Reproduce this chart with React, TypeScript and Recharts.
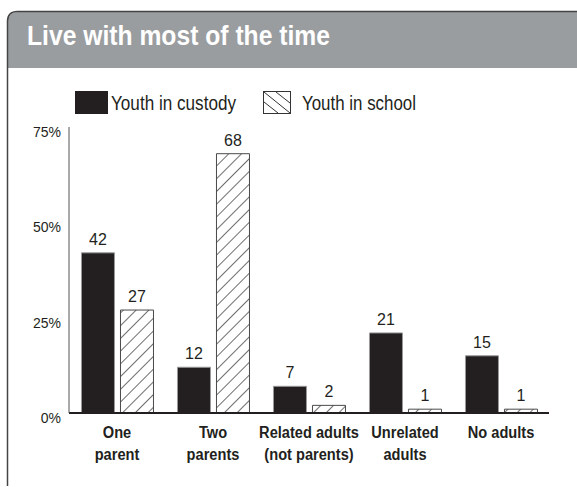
import { Bar, BarChart, LabelList, XAxis, YAxis } from "recharts";

const categories = [
  "One\nparent",
  "Two\nparents",
  "Related adults\n(not parents)",
  "Unrelated\nadults",
  "No adults",
];
const custody = [42, 12, 7, 21, 15];
const school = [27, 68, 2, 1, 1];
const yTicks = [0, 25, 50, 75];

const data = categories.map((name, i) => ({ name, custody: custody[i], school: school[i] }));

const SANS = "'Liberation Sans', Arial, sans-serif";
const INK = "#231f20";

// condensed look: Liberation Sans squeezed horizontally
function XTick({ x, y, payload }: any) {
  const lines = String(payload.value).split("\n");
  return (
    <g transform={`translate(${x},${y}) scale(0.86,1)`}>
      <text x={0} y={0} textAnchor="middle" fill={INK} fontFamily={SANS} fontWeight="bold" fontSize={17}>
        {lines.map((l, i) => (
          <tspan key={i} x={0} dy={i === 0 ? 25 : 22}>
            {l}
          </tspan>
        ))}
      </text>
    </g>
  );
}

function YTick({ x, y, payload }: any) {
  return (
    <text x={x - 8} y={y + 5} textAnchor="end" dominantBaseline="central" fill={INK} fontFamily={SANS} fontSize={14}>
      {payload.value}%
    </text>
  );
}

export default function App() {
  return (
    <div style={{ position: "absolute", left: 0, top: 0, width: 577, height: 487, overflow: "hidden", background: "#fff" }}>
      <svg width={577} height={487} style={{ position: "absolute", left: 0, top: 0 }}>
        <path d="M 700 12 L 18 12 Q 8 12 8 22 L 8 68 L 700 68 Z" fill="#9a9d9f" />
        <path d="M 700 11.5 L 17.5 11.5 Q 7.5 11.5 7.5 21.5 L 7.5 486" fill="none" stroke="#444" strokeWidth={1.5} />
        <text
          x={27}
          y={45}
          fill="#fff"
          fontFamily={SANS}
          fontWeight="bold"
          fontSize={28}
          textLength={303}
          lengthAdjust="spacingAndGlyphs"
        >
          Live with most of the time
        </text>
        <rect x={75} y={91} width={33} height={23} fill={INK} />
        <text x={111} y={110} fill={INK} fontFamily={SANS} fontSize={20} textLength={125} lengthAdjust="spacingAndGlyphs">
          Youth in custody
        </text>
        <rect x={263.5} y={91.5} width={27} height={22} fill="#fff" stroke="#333" strokeWidth={1} />
        <line x1={264} y1={92} x2={290} y2={113} stroke="#333" strokeWidth={1} />
        <line x1={264} y1={102} x2={278} y2={113} stroke="#333" strokeWidth={1} />
        <line x1={276} y1={92} x2={290} y2={103} stroke="#333" strokeWidth={1} />
        <text x={302} y={110} fill={INK} fontFamily={SANS} fontSize={20} textLength={114} lengthAdjust="spacingAndGlyphs">
          Youth in school
        </text>
      </svg>

      <div style={{ position: "absolute", left: 0, top: 0 }}>
        <BarChart
          width={577}
          height={487}
          data={data}
          margin={{ top: 127, right: 28, bottom: 14, left: 0 }}
          barCategoryGap="13%"
          barGap={6}
        >
          <defs>
            <pattern id="hatch" patternUnits="userSpaceOnUse" width={9} height={9} patternTransform="rotate(45)">
              <rect width={9} height={9} fill="#fff" />
              <line x1={0} y1={0} x2={0} y2={9} stroke={INK} strokeWidth={1.3} />
            </pattern>
          </defs>
          <XAxis
            dataKey="name"
            height={60}
            interval={0}
            tickLine={false}
            tickSize={0}
            tickMargin={0}
            axisLine={{ stroke: INK, strokeWidth: 2 }}
            tick={<XTick />}
          />
          <YAxis
            width={69}
            domain={[0, 75]}
            ticks={yTicks}
            tickLine={false}
            tickSize={0}
            tickMargin={0}
            axisLine={{ stroke: "#555", strokeWidth: 1 }}
            tick={<YTick />}
          />
          <Bar dataKey="custody" fill={INK} stroke="#9a9a9a" strokeWidth={1} isAnimationActive={false}>
            <LabelList dataKey="custody" position="top" offset={8} fill={INK} fontFamily={SANS} fontSize={16} />
          </Bar>
          <Bar dataKey="school" fill="url(#hatch)" stroke="#4a4a4a" strokeWidth={1} isAnimationActive={false}>
            <LabelList dataKey="school" position="top" offset={8} fill={INK} fontFamily={SANS} fontSize={16} />
          </Bar>
        </BarChart>
      </div>
    </div>
  );
}
